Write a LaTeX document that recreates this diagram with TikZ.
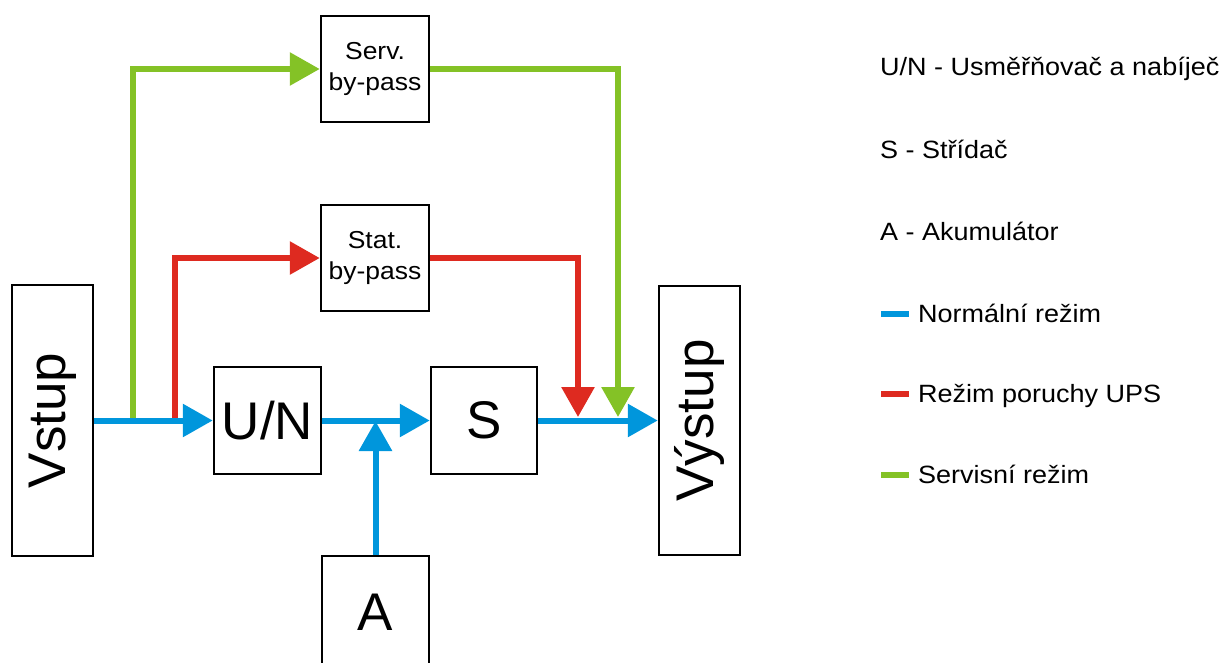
\documentclass[tikz,border=0pt]{standalone}
\usepackage{fontspec}
\setmainfont{Liberation Sans}
\newfontfamily\widefont[FakeStretch=1.08]{Liberation Sans}
\usetikzlibrary{arrows.meta}
\definecolor{cblue}{RGB}{0,150,220}
\definecolor{cred}{RGB}{222,42,32}
\definecolor{cgreen}{RGB}{132,194,38}
\begin{document}
\begin{tikzpicture}[x=1pt,y=-1pt,
  blk/.style={draw=black,line width=2.5pt,inner sep=0pt,align=center},
  bigtxt/.style={font=\fontsize{53}{60}\selectfont},
  smalltxt/.style={font=\widefont\fontsize{24.5}{31}\selectfont},
  legtxt/.style={font=\widefont\fontsize{25}{28}\selectfont,anchor=base west,inner sep=0pt},
  flow/.style={line width=6pt,-{Triangle[length=30pt,width=32pt]}},
  legdash/.style={line width=6pt}
]
\useasboundingbox (0,0) rectangle (1221,662);
% boxes
\node[blk,bigtxt,minimum width=81pt,minimum height=271pt] (vstup) at (52.5,420.5) {\rotatebox{90}{Vstup}};
\node[blk,bigtxt,minimum width=107pt,minimum height=107pt] (un) at (267.5,420.5) {U/N};
\node[blk,bigtxt,minimum width=106pt,minimum height=107pt] (s) at (484,420.5) {S};
\node[blk,bigtxt,minimum width=107pt,minimum height=120pt] (a) at (375.5,616) {\raisebox{7pt}{A}};
\node[blk,bigtxt,minimum width=81pt,minimum height=269pt] (vystup) at (699.5,420.5) {\rotatebox{90}{Výstup}};
\node[blk,smalltxt,minimum width=108pt,minimum height=106pt] (serv) at (375,69) {Serv.\\by-pass};
\node[blk,smalltxt,minimum width=108pt,minimum height=106pt] (stat) at (375,258) {Stat.\\by-pass};
% junction coordinates
\coordinate (gs) at (133,420.5);
\coordinate (rs) at (175,420.5);
\coordinate (gd) at (618,417);
\coordinate (rd) at (578,417);
\coordinate (aj) at (375.5,421);
% green service bypass
\draw[flow,cgreen] (gs) |- (serv.west);
\draw[flow,cgreen] (serv.east) -| (gd);
% red static bypass
\draw[flow,cred] (rs) |- (stat.west);
\draw[flow,cred] (stat.east) -| (rd);
% blue normal path
\draw[flow,cblue] (vstup.east) -- (un.west);
\draw[flow,cblue] (un.east) -- (s.west);
\draw[flow,cblue] (s.east) -- (vystup.west);
\draw[flow,cblue] (a.north) -- (aj);
% legend
\node[legtxt] (l1) at (880,75) {U/N - Usměřňovač a nabíječ};
\node[legtxt] (l2) at (880,158) {S - Střídač};
\node[legtxt] (l3) at (880,240) {A - Akumulátor};
\node[legtxt] (l4) at (918,322) {Normální režim};
\node[legtxt] (l5) at (918,402) {Režim poruchy UPS};
\node[legtxt] (l6) at (918,483) {Servisní režim};
\coordinate (d4a) at (881,313.5); \coordinate (d4b) at (909,313.5);
\coordinate (d5a) at (881,393.5); \coordinate (d5b) at (909,393.5);
\coordinate (d6a) at (881,474.5); \coordinate (d6b) at (909,474.5);
\draw[legdash,cblue] (d4a) -- (d4b);
\draw[legdash,cred] (d5a) -- (d5b);
\draw[legdash,cgreen] (d6a) -- (d6b);
\end{tikzpicture}
\end{document}
